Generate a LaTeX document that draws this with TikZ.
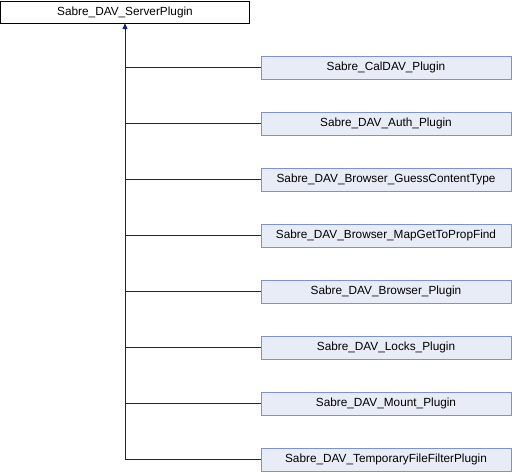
\documentclass[tikz,border=0pt]{standalone}
\usepackage{fontspec}
\setmainfont{Liberation Sans}
\usetikzlibrary{arrows.meta}
\definecolor{boxfill}{HTML}{E8ECF6}
\definecolor{boxline}{HTML}{7F93CB}
\definecolor{edgecol}{HTML}{1A1A8C}
\tikzset{
  rootbox/.style={draw=black, fill=white, minimum width=249pt, minimum height=22pt, inner sep=0pt, font=\fontsize{11.8pt}{13pt}\selectfont},
  childbox/.style={draw=boxline, fill=boxfill, minimum width=250pt, minimum height=23pt, inner sep=0pt, font=\fontsize{11.8pt}{13pt}\selectfont},
  edge/.style={draw=edgecol, line width=1pt},
}
\begin{document}
\begin{tikzpicture}[x=1pt,y=-1pt]
\useasboundingbox (0,0) rectangle (512,472);
\node[rootbox] (root) at (125,12) {Sabre\_DAV\_ServerPlugin};
\node[childbox] (c1) at (386,67.5) {Sabre\_CalDAV\_Plugin};
\node[childbox] (c2) at (386,123.5) {Sabre\_DAV\_Auth\_Plugin};
\node[childbox] (c3) at (386,179.5) {Sabre\_DAV\_Browser\_GuessContentType};
\node[childbox] (c4) at (386,235.5) {Sabre\_DAV\_Browser\_MapGetToPropFind};
\node[childbox] (c5) at (386,291.5) {Sabre\_DAV\_Browser\_Plugin};
\node[childbox] (c6) at (386,347.5) {Sabre\_DAV\_Locks\_Plugin};
\node[childbox] (c7) at (386,403.5) {Sabre\_DAV\_Mount\_Plugin};
\node[childbox] (c8) at (386,459.5) {Sabre\_DAV\_TemporaryFileFilterPlugin};
\draw[edge, -{Triangle[length=6pt,width=5pt]}] (c8.west) -| (root.south);
\foreach \c in {c1,c2,c3,c4,c5,c6,c7}{
  \draw[edge] (\c.west) -- (\c.west -| root.south);
}
\end{tikzpicture}
\end{document}
